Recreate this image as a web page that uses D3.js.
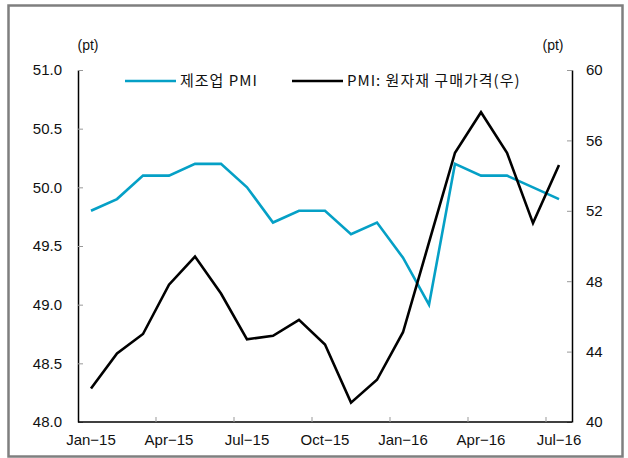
<!DOCTYPE html>
<html>
<head>
<meta charset="utf-8">
<script src="https://cdn.jsdelivr.net/npm/d3@7"></script>
<style>
body { margin: 0; background: #fff; }
svg text { font-family: "Liberation Sans", Arial, sans-serif; fill: #111; }
.kr { font-family: "Noto Sans CJK KR", sans-serif; letter-spacing: 1px; }
</style>
</head>
<body>
<svg id="chart" width="628" height="458"></svg>
<script>
// months (x categories)
var months = ["Jan-15","Feb-15","Mar-15","Apr-15","May-15","Jun-15","Jul-15","Aug-15","Sep-15",
  "Oct-15","Nov-15","Dec-15","Jan-16","Feb-16","Mar-16","Apr-16","May-16","Jun-16","Jul-16"];
// 제조업 PMI (left axis)
var pmi = [49.8, 49.9, 50.1, 50.1, 50.2, 50.2, 50.0, 49.7, 49.8, 49.8, 49.6, 49.7, 49.4, 49.0, 50.2, 50.1, 50.1, 50.0, 49.9];
// PMI: 원자재 구매가격 (right axis)
var price = [41.9, 43.9, 45.0, 47.8, 49.4, 47.3, 44.7, 44.9, 45.8, 44.4, 41.1, 42.4, 45.1, 50.2, 55.3, 57.6, 55.3, 51.3, 54.6];
var leftTicks = [48.0, 48.5, 49.0, 49.5, 50.0, 50.5, 51.0];
var rightTicks = [40, 44, 48, 52, 56, 60];
var xLabels = ["Jan-15","Apr-15","Jul-15","Oct-15","Jan-16","Apr-16","Jul-16"];

var svg = d3.select("#chart");
var plotL = 78, plotR = 572, plotT = 70, plotB = 422;
var blue = "#05a0c6";

var x = d3.scaleBand().domain(months).range([plotL, plotR]).padding(0);
var yL = d3.scaleLinear().domain([48, 51]).range([plotB, plotT]);
var yR = d3.scaleLinear().domain([40, 60]).range([plotB, plotT]);

// outer frame
svg.append("rect").attr("x", 8.5).attr("y", 5.5).attr("width", 614).attr("height", 451)
  .attr("fill", "none").attr("stroke", "#7f7f7f").attr("stroke-width", 2.5);

// left axis
var gL = svg.append("g").attr("transform", "translate(" + plotL + ",0)")
  .call(d3.axisLeft(yL).tickValues(leftTicks).tickFormat(d3.format(".1f")).tickSizeInner(-5).tickSizeOuter(0).tickPadding(16));
gL.select(".domain").attr("stroke", "#000").attr("stroke-width", 1.5);
gL.selectAll(".tick line").attr("stroke", "#999");
gL.selectAll(".tick text").style("font-size", "15px").attr("fill", "#111").attr("x", -16);

// right axis
var gR = svg.append("g").attr("transform", "translate(" + plotR + ",0)")
  .call(d3.axisRight(yR).tickValues(rightTicks).tickSizeInner(-5).tickSizeOuter(0).tickPadding(14));
gR.select(".domain").attr("stroke", "#000").attr("stroke-width", 1.5);
gR.selectAll(".tick line").attr("stroke", "#999");
gR.selectAll(".tick text").style("font-size", "15px").attr("fill", "#111").attr("x", 14);

// bottom axis: ticks on quarter boundaries, labels on band centres
svg.append("line").attr("x1", plotL).attr("x2", plotR).attr("y1", plotB).attr("y2", plotB)
  .attr("stroke", "#000").attr("stroke-width", 1.5);
var bounds = months.filter(function(m, i) { return i > 0 && i % 3 == 0; });
svg.selectAll(".xtick").data(bounds).enter().append("line")
  .attr("x1", function(d) { return x(d); }).attr("x2", function(d) { return x(d); })
  .attr("y1", plotB).attr("y2", plotB - 5).attr("stroke", "#999");
svg.selectAll(".xlab").data(xLabels).enter().append("text")
  .attr("x", function(d) { return x(d) + x.bandwidth() / 2; })
  .attr("y", plotB + 23).attr("text-anchor", "middle").style("font-size", "15px")
  .text(function(d) { return d.replace("-", "\u2212"); });

// unit labels
svg.append("text").attr("x", 88).attr("y", 50).attr("text-anchor", "middle").style("font-size", "14px").text("(pt)");
svg.append("text").attr("x", 553).attr("y", 50).attr("text-anchor", "middle").style("font-size", "14px").text("(pt)");

// lines
var lineL = d3.line().x(function(d, i) { return x(months[i]) + x.bandwidth() / 2; }).y(function(d) { return yL(d); });
var lineR = d3.line().x(function(d, i) { return x(months[i]) + x.bandwidth() / 2; }).y(function(d) { return yR(d); });
svg.append("path").datum(pmi).attr("d", lineL).attr("fill", "none").attr("stroke", blue).attr("stroke-width", 2.6);
svg.append("path").datum(price).attr("d", lineR).attr("fill", "none").attr("stroke", "#000").attr("stroke-width", 2.6);

// legend
var legend = [{name: "제조업 PMI", color: blue, x: 125}, {name: "PMI: 원자재 구매가격(우)", color: "#000", x: 292}];
var lg = svg.selectAll(".lg").data(legend).enter().append("g").attr("transform", function(d) { return "translate(" + d.x + ",81)"; });
lg.append("line").attr("x1", 0).attr("x2", 51).attr("y1", 0).attr("y2", 0).attr("stroke", function(d) { return d.color; }).attr("stroke-width", 2.6);
lg.append("text").attr("class", "kr").attr("x", 55).attr("y", 5).style("font-size", "15px").text(function(d) { return d.name; });
</script>
</body>
</html>
